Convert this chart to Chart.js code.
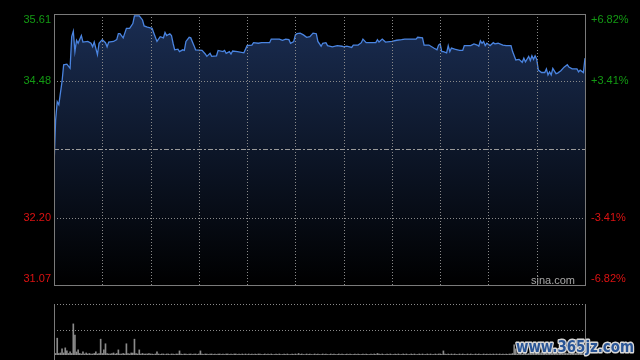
<!DOCTYPE html>
<html>
<head>
<meta charset="utf-8">
<script src="https://cdn.jsdelivr.net/npm/chart.js@4/dist/chart.umd.min.js"></script>
<style>
  html, body { margin: 0; padding: 0; background: #000; overflow: hidden; }
  #wrap { position: relative; width: 640px; height: 360px; background: #000; }
  canvas { position: absolute; left: 0; }
  #price { top: 0; }
  #volume { top: 290px; }
</style>
</head>
<body>
<div id="wrap">
  <canvas id="price" width="640" height="290"></canvas>
  <canvas id="volume" width="640" height="70"></canvas>
</div>
<script>
// intraday minutes (0 = 09:30, 330 = 16:00) and prices
const minutes = [0,1,2,3,4,5,6,8,10,11,12,13,14,15,17,18,21,23,24,25,27,28,30,32,33,34,37,39,40,41,43,44,45,47,49,50,53,55,56,58,61,62,64,66,68,69,70,72,73,74,75,77,78,80,81,82,84,85,87,88,92,94,95,97,98,101,102,105,106,107,109,110,111,114,118,120,123,124,127,129,134,135,140,142,144,146,147,149,150,151,153,155,157,159,161,163,164,166,167,169,170,173,176,179,180,182,185,186,189,191,192,194,200,201,202,204,206,210,213,216,218,225,226,229,230,233,236,238,239,240,241,242,244,245,246,247,249,252,254,255,259,261,263,264,265,266,267,268,269,271,273,274,276,279,281,284,285,287,289,291,292,293,295,296,297,298,299,300,301,303,305,306,307,308,309,310,312,313,315,317,319,320,322,325,326,327,329,330];
const prices = [33.06,33.83,34.14,34.09,34.29,34.48,34.76,34.77,34.70,35.23,35.32,34.98,35.17,35.12,35.25,35.14,35.15,35.12,35.06,35.14,34.93,35.12,35.18,35.13,35.06,35.14,35.15,35.18,35.28,35.28,35.21,35.29,35.37,35.37,35.45,35.58,35.58,35.51,35.41,35.39,35.37,35.29,35.15,35.23,35.21,35.30,35.25,35.28,35.25,35.12,35.01,35.02,34.98,35.01,35.00,35.15,35.22,35.21,35.08,35.01,35.00,34.94,34.90,34.95,34.90,34.91,35.00,34.98,35.00,34.95,34.98,34.94,34.99,34.98,34.96,35.08,35.09,35.13,35.12,35.13,35.13,35.19,35.19,35.17,35.19,35.18,35.12,35.15,35.26,35.28,35.29,35.26,35.22,35.23,35.29,35.28,35.15,35.07,35.12,35.13,35.08,35.06,35.08,35.07,35.06,35.07,35.05,35.09,35.09,35.13,35.19,35.13,35.13,35.18,35.14,35.19,35.14,35.15,35.17,35.18,35.19,35.19,35.22,35.21,35.09,35.09,35.04,35.01,35.09,35.11,34.98,34.98,34.96,35.08,34.98,35.04,35.02,35.00,35.00,35.08,35.08,35.11,35.09,35.07,35.16,35.12,35.15,35.08,35.12,35.08,35.13,35.11,35.12,35.09,35.08,35.08,34.98,34.84,34.85,34.80,34.87,34.81,34.90,34.83,34.91,34.85,34.91,34.85,34.67,34.63,34.63,34.69,34.59,34.64,34.59,34.70,34.61,34.62,34.66,34.72,34.76,34.72,34.69,34.69,34.64,34.67,34.63,34.87];

// volume per minute (relative units, 100 = top of the volume panel)
const volumes = [
  14,3,33,3,4,12,4,14,8,3,6,3,61,39,6,10,3,2,6,2,4,2,3,2,2,3,6,2,3,31,
  3,10,22,3,2,2,3,4,2,3,10,2,2,3,2,22,3,2,4,4,31,3,2,10,2,3,2,2,2,3,
  2,2,1,2,6,2,1,2,2,1,2,2,1,2,2,1,2,2,8,2,1,2,2,1,2,2,1,2,2,1,
  2,8,2,1,2,2,1,2,2,1,2,1,2,2,1,2,1,2,2,1,2,1,2,2,1,2,1,2,1,2,
  1,2,1,2,1,2,1,2,2,1,1,2,1,2,1,2,1,1,2,1,2,1,1,2,1,2,1,1,2,1,
  2,1,3,1,2,1,1,2,1,2,1,1,2,1,2,1,1,2,1,2,1,1,2,1,2,1,1,2,1,2,
  1,1,2,1,2,1,1,2,1,2,1,1,2,1,2,1,1,2,1,2,1,3,2,1,2,1,1,2,1,2,
  1,1,2,1,2,1,1,2,1,2,1,1,2,1,2,1,1,2,1,2,1,1,2,1,2,1,1,2,1,2,
  2,1,8,2,1,2,1,2,1,2,1,1,2,1,2,1,1,2,1,2,1,1,2,1,2,1,1,2,1,2,
  1,2,1,2,1,2,1,2,1,2,1,2,1,2,2,3,20,12,2,3,6,2,3,8,2,3,6,2,3,4,
  5,3,4,6,3,4,8,3,4,5,3,6,4,3,5,4,3,6,4,3,5,3,4,6,3,4,5,3,4,3,8
];

const prevClose = 33.34;
const priceTicks = [35.61, 34.48, 32.20, 31.07];
const pctTicks = ['+6.82%', '+3.41%', '-3.41%', '-6.82%'];
const timeGrid = [30, 60, 90, 120, 150, 180, 210, 240, 270, 300];

const UP = '#139a13', DOWN = '#dd1212', FONT = '11px "Liberation Sans", Arial, sans-serif';

function hline(c, y, x1, x2, dash, color) {
  c.save();
  c.strokeStyle = color; c.lineWidth = 1; c.setLineDash(dash);
  c.beginPath(); c.moveTo(x1, Math.round(y) + 0.5); c.lineTo(x2, Math.round(y) + 0.5); c.stroke();
  c.restore();
}
function vline(c, x, y1, y2, dash, color) {
  c.save();
  c.strokeStyle = color; c.lineWidth = 1; c.setLineDash(dash);
  c.beginPath(); c.moveTo(Math.round(x) + 0.5, y1); c.lineTo(Math.round(x) + 0.5, y2); c.stroke();
  c.restore();
}

const priceFrame = {
  id: 'priceFrame',
  afterDatasetsDraw(chart) {
    const c = chart.ctx, a = chart.chartArea, xs = chart.scales.x, ys = chart.scales.y;
    timeGrid.forEach(m => vline(c, xs.getPixelForValue(m), a.top, a.bottom, [1, 2], '#8a8a8a'));
    [priceTicks[1], priceTicks[2]].forEach(v => hline(c, ys.getPixelForValue(v), a.left, a.right, [1, 2], '#8a8a8a'));
    hline(c, ys.getPixelForValue(prevClose), a.left, a.right, [5, 2, 2, 2], '#9a9a9a');
    // frame
    c.save();
    c.strokeStyle = '#7a7a7a'; c.lineWidth = 1;
    c.strokeRect(a.left + 0.5, a.top + 0.5, a.right - a.left, a.bottom - a.top);
    c.restore();
  },
  afterDraw(chart) {
    const c = chart.ctx, a = chart.chartArea, ys = chart.scales.y;
    c.save();
    c.font = FONT; c.textBaseline = 'middle';
    priceTicks.forEach((v, i) => {
      let y = ys.getPixelForValue(v);
      y = Math.min(Math.max(y, a.top + 6), a.bottom - 6);
      c.fillStyle = v > prevClose ? UP : DOWN;
      c.textAlign = 'right'; c.fillText(v.toFixed(2), a.left - 3, y);
      c.textAlign = 'left'; c.fillText(pctTicks[i], a.right + 6, y);
    });
    c.fillStyle = '#a8a8a8'; c.textAlign = 'right'; c.textBaseline = 'alphabetic';
    c.fillText('sina.com', a.right - 10, a.bottom - 1);
    c.restore();
  }
};

new Chart(document.getElementById('price'), {
  type: 'line',
  data: {
    datasets: [{
      data: minutes.map((m, i) => ({ x: m, y: prices[i] })),
      borderColor: '#4a84e0',
      borderWidth: 1.3,
      pointRadius: 0,
      tension: 0,
      fill: 'start',
      backgroundColor: (ctx) => {
        const a = ctx.chart.chartArea;
        if (!a) return 'rgba(0,0,0,0)';
        const g = ctx.chart.ctx.createLinearGradient(0, a.top, 0, a.bottom);
        g.addColorStop(0, '#1a2d52');
        g.addColorStop(1, '#000000');
        return g;
      }
    }]
  },
  options: {
    responsive: false,
    animation: false,
    events: [],
    layout: { padding: { left: 54, right: 55, top: 14, bottom: 5 } },
    plugins: { legend: { display: false }, tooltip: { enabled: false } },
    scales: {
      x: { type: 'linear', min: 0, max: 330, display: false },
      y: { min: priceTicks[3], max: priceTicks[0], display: false }
    }
  },
  plugins: [priceFrame]
});

const volFrame = {
  id: 'volFrame',
  afterDatasetsDraw(chart) {
    const c = chart.ctx, a = chart.chartArea, ys = chart.scales.y;
    hline(c, ys.getPixelForValue(100), a.left, a.right, [1, 2], '#8a8a8a');
    hline(c, ys.getPixelForValue(50), a.left, a.right, [1, 2], '#8a8a8a');
    vline(c, a.left, a.top, chart.height, [], '#7a7a7a');
    vline(c, a.right, a.top, a.bottom, [], '#7a7a7a');
  },
  afterDraw(chart) {
    const c = chart.ctx;
    c.save();
    c.font = 'bold 16px "DejaVu Sans", sans-serif';
    c.textAlign = 'left'; c.textBaseline = 'alphabetic';
    c.lineJoin = 'round';
    c.strokeStyle = '#d8d8d8'; c.lineWidth = 3;
    c.strokeText('www.365jz.com', 516, 62, 118);
    c.fillStyle = '#2a5596';
    c.fillText('www.365jz.com', 516, 62, 118);
    c.restore();
  }
};

new Chart(document.getElementById('volume'), {
  type: 'bar',
  data: {
    datasets: [{
      data: volumes.map((v, i) => ({ x: i, y: v })),
      backgroundColor: '#8a8a8a',
      barThickness: 1,
      borderWidth: 0
    }]
  },
  options: {
    responsive: false,
    animation: false,
    events: [],
    layout: { padding: { left: 54, right: 55, top: 14, bottom: 5 } },
    plugins: { legend: { display: false }, tooltip: { enabled: false } },
    scales: {
      x: { type: 'linear', min: 0, max: 330, display: false, offset: false },
      y: { min: 0, max: 100, display: false }
    }
  },
  plugins: [volFrame]
});
</script>
</body>
</html>
